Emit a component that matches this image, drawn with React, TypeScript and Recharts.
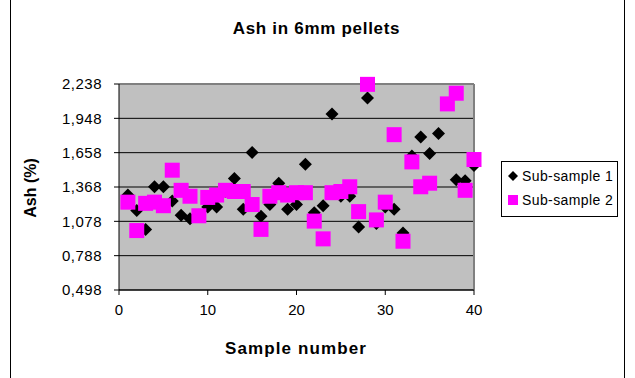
import {
	CartesianGrid,
	ReferenceLine,
	Scatter,
	ScatterChart,
	XAxis,
	YAxis,
} from 'recharts';

const samples = [
	1, 2, 3, 4, 5, 6, 7, 8, 9, 10, 11, 12, 13, 14, 15, 16, 17, 18, 19, 20, 21,
	22, 23, 24, 25, 26, 27, 28, 29, 30, 31, 32, 33, 34, 35, 36, 37, 38, 39, 40,
];

const subSample1 = [
	1.3, 1.17, 1.01, 1.37, 1.37, 1.25, 1.13, 1.1, 1.13, 1.2, 1.2, 1.33, 1.44,
	1.18, 1.66, 1.12, 1.22, 1.4, 1.18, 1.22, 1.56, 1.15, 1.21, 1.985, 1.29, 1.29,
	1.03, 2.12, 1.06, 1.2, 1.18, 0.98, 1.63, 1.79, 1.65, 1.82, 2.07, 1.43, 1.42,
	1.55,
];

const subSample2: (number | null)[] = [
	1.24, 1.0, 1.23, 1.24, 1.21, 1.51, 1.34, 1.29, 1.125, 1.28, 1.3, 1.34, 1.33,
	1.33, 1.22, 1.01, 1.29, 1.32, 1.3, 1.32, 1.32, 1.08, 0.93, 1.32, 1.33, 1.37,
	1.16, 2.235, 1.09, 1.24, 1.81, 0.91, 1.58, 1.37, 1.4, null, 2.07, 2.16, 1.34,
	1.6,
];

const xTicks = [0, 10, 20, 30, 40];
const yTicks = [0.498, 0.788, 1.078, 1.368, 1.658, 1.948, 2.238];

const seriesNames = ['Sub-sample 1', 'Sub-sample 2'];

const toPoints = (values: (number | null)[]) =>
	samples
		.map((s, i) => ({ x: s, y: values[i] }))
		.filter((p) => p.y !== null);

const font = '"Liberation Sans", Arial, sans-serif';

function Diamond({ cx, cy }: any) {
	if (cx == null || cy == null) return null;
	const r = 6.5;
	return (
		<polygon
			points={`${cx},${cy - r} ${cx + r},${cy} ${cx},${cy + r} ${cx - r},${cy}`}
			fill="#000000"
		/>
	);
}

function Square({ cx, cy }: any) {
	if (cx == null || cy == null) return null;
	return <rect x={cx - 7.5} y={cy - 7.5} width={15} height={15} fill="#FF00FF" />;
}

function LegendBox() {
	return (
		<div
			style={{
				position: 'absolute',
				left: 501,
				top: 161,
				width: 117,
				height: 56,
				border: '1px solid #000',
				background: '#fff',
				fontFamily: font,
				fontSize: 14,
				letterSpacing: 0.4,
				boxSizing: 'border-box',
				padding: '3px 0 0 5px',
			}}
		>
			<div style={{ display: 'flex', alignItems: 'center', height: 22 }}>
				<svg width={12} height={12} style={{ marginRight: 3 }}>
					<polygon points="6,1 11,6 6,11 1,6" fill="#000" />
				</svg>
				{seriesNames[0]}
			</div>
			<div style={{ display: 'flex', alignItems: 'center', height: 26 }}>
				<svg width={12} height={12} style={{ marginRight: 3 }}>
					<rect x={1} y={1} width={10} height={10} fill="#FF00FF" />
				</svg>
				{seriesNames[1]}
			</div>
		</div>
	);
}

export default function App() {
	const fmt = (v: number) => v.toFixed(3).replace('.', ',');

	return (
		<div
			style={{
				position: 'absolute',
				left: 0,
				top: 0,
				width: 635,
				height: 378,
				background: '#fff',
				fontFamily: font,
			}}
		>
			<div
				style={{
					position: 'absolute',
					left: 10,
					top: 0,
					width: 613,
					height: 378,
					borderLeft: '1px solid #000',
					borderRight: '1px solid #000',
				}}
			/>
			<div
				style={{
					position: 'absolute',
					left: 0,
					width: 635,
					top: 19,
					textAlign: 'center',
					fontSize: 17,
					fontWeight: 'bold',
					letterSpacing: 0.7,
				}}
			>
				<span style={{ position: 'relative', left: -1 }}>Ash in 6mm pellets</span>
			</div>
			<div
				style={{
					position: 'absolute',
					left: 31,
					top: 188,
					transform: 'translate(-50%, -50%) rotate(-90deg)',
					fontSize: 16,
					fontWeight: 'bold',
					whiteSpace: 'nowrap',
				}}
			>
				Ash (%)
			</div>
			<div
				style={{
					position: 'absolute',
					left: 296,
					top: 349,
					transform: 'translate(-50%, -50%)',
					fontSize: 17,
					fontWeight: 'bold',
					letterSpacing: 1.1,
					whiteSpace: 'nowrap',
				}}
			>
				Sample number
			</div>
			<ScatterChart
				width={635}
				height={378}
				margin={{ top: 84, right: 161, bottom: 48, left: 59 }}
				style={{ position: 'absolute', left: 0, top: 0 }}
			>
				<CartesianGrid
					vertical={false}
					stroke="#000"
					strokeWidth={1}
					fill="#C0C0C0"
					fillOpacity={1}
				/>
				<XAxis
					type="number"
					dataKey="x"
					domain={[0, 40]}
					ticks={xTicks}
					height={40}
					stroke="#000"
					tickSize={5}
					tickMargin={9}
					tick={{ fill: '#000', fontSize: 15, fontFamily: font }}
				/>
				<YAxis
					type="number"
					dataKey="y"
					domain={[0.498, 2.238]}
					ticks={yTicks}
					width={60}
					stroke="#000"
					tickSize={5}
					tickMargin={12}
					tickFormatter={fmt}
					tick={{ fill: '#000', fontSize: 15, fontFamily: font, letterSpacing: 0.5 }}
				/>
				<ReferenceLine y={2.238} stroke="#808080" strokeWidth={2} />
				<ReferenceLine x={40} stroke="#808080" strokeWidth={2} />
				<Scatter
					name={seriesNames[0]}
					data={toPoints(subSample1)}
					shape={Diamond}
					isAnimationActive={false}
				/>
				<Scatter
					name={seriesNames[1]}
					data={toPoints(subSample2)}
					shape={Square}
					isAnimationActive={false}
				/>
			</ScatterChart>
			<LegendBox />
		</div>
	);
}
